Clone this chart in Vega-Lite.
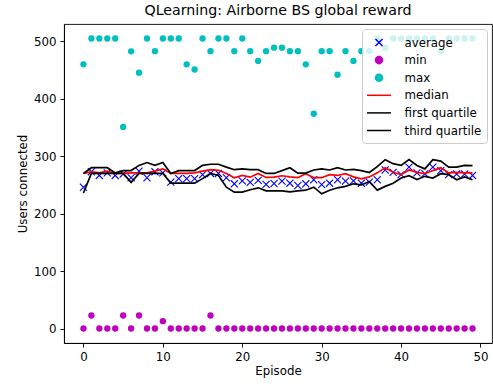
{
  "$schema": "https://vega.github.io/schema/vega-lite/v6.json",
  "width": 428,
  "height": 319,
  "autosize": {"type": "none"},
  "padding": {"left": 64, "top": 24, "right": 1, "bottom": 43},
  "title": {"text": "QLearning: Airborne BS global reward", "font": "DejaVu Sans", "fontSize": 14.2, "fontWeight": "normal", "color": "#000000", "offset": 6},
  "data": {"values": [
    {"episode": 0, "average": 246, "min": 0, "max": 460, "median": 270, "q1": 236, "q3": 270},
    {"episode": 1, "average": 273, "min": 22.6, "max": 505, "median": 272.8, "q1": 270, "q3": 280},
    {"episode": 2, "average": 266.5, "min": 0, "max": 505, "median": 271, "q1": 270, "q3": 280},
    {"episode": 3, "average": 271, "min": 0, "max": 505, "median": 274, "q1": 270, "q3": 280},
    {"episode": 4, "average": 266.5, "min": 0, "max": 505, "median": 270, "q1": 270, "q3": 271},
    {"episode": 5, "average": 269, "min": 22.6, "max": 351, "median": 270, "q1": 270, "q3": 275},
    {"episode": 6, "average": 262.5, "min": 0, "max": 482.6, "median": 271, "q1": 254.5, "q3": 275},
    {"episode": 7, "average": 274, "min": 22.6, "max": 445.5, "median": 271, "q1": 270, "q3": 284},
    {"episode": 8, "average": 262.5, "min": 0, "max": 505, "median": 271, "q1": 270, "q3": 289},
    {"episode": 9, "average": 273, "min": 0, "max": 483, "median": 274, "q1": 270, "q3": 284},
    {"episode": 10, "average": 271, "min": 12.7, "max": 505, "median": 278, "q1": 270, "q3": 289},
    {"episode": 11, "average": 255, "min": 0, "max": 505, "median": 270, "q1": 253, "q3": 270},
    {"episode": 12, "average": 261, "min": 0, "max": 505, "median": 270, "q1": 253, "q3": 275},
    {"episode": 13, "average": 261, "min": 0, "max": 460, "median": 270, "q1": 253, "q3": 275},
    {"episode": 14, "average": 261, "min": 0, "max": 451, "median": 271, "q1": 253, "q3": 275},
    {"episode": 15, "average": 268, "min": 0, "max": 505, "median": 274, "q1": 261, "q3": 284},
    {"episode": 16, "average": 270, "min": 22.6, "max": 483, "median": 276.5, "q1": 270, "q3": 286},
    {"episode": 17, "average": 270, "min": 0, "max": 505, "median": 275.5, "q1": 266.5, "q3": 286},
    {"episode": 18, "average": 262.5, "min": 0, "max": 505, "median": 270, "q1": 246, "q3": 281},
    {"episode": 19, "average": 252, "min": 0, "max": 483, "median": 262.5, "q1": 237.5, "q3": 276.5},
    {"episode": 20, "average": 257, "min": 0, "max": 505, "median": 266.5, "q1": 237.5, "q3": 278},
    {"episode": 21, "average": 254.5, "min": 0, "max": 483, "median": 263.5, "q1": 241.6, "q3": 276.5},
    {"episode": 22, "average": 258, "min": 0, "max": 466, "median": 270, "q1": 245, "q3": 276.5},
    {"episode": 23, "average": 251, "min": 0, "max": 483, "median": 263, "q1": 239.7, "q3": 270},
    {"episode": 24, "average": 252.5, "min": 0, "max": 489, "median": 263.5, "q1": 239.7, "q3": 270},
    {"episode": 25, "average": 256.6, "min": 0, "max": 489, "median": 266, "q1": 239.7, "q3": 275},
    {"episode": 26, "average": 253, "min": 0, "max": 483, "median": 264, "q1": 238, "q3": 280},
    {"episode": 27, "average": 249, "min": 0, "max": 483, "median": 262.6, "q1": 239.7, "q3": 270.5},
    {"episode": 28, "average": 252, "min": 0, "max": 460, "median": 269.5, "q1": 240.8, "q3": 270.5},
    {"episode": 29, "average": 259, "min": 0, "max": 374, "median": 262.6, "q1": 246.2, "q3": 276},
    {"episode": 30, "average": 250.6, "min": 0, "max": 483, "median": 262.6, "q1": 234.6, "q3": 278},
    {"episode": 31, "average": 253, "min": 0, "max": 483, "median": 268, "q1": 240.8, "q3": 276},
    {"episode": 32, "average": 259, "min": 0, "max": 442, "median": 266.5, "q1": 245, "q3": 280},
    {"episode": 33, "average": 256.6, "min": 0, "max": 483, "median": 269.5, "q1": 247.5, "q3": 276},
    {"episode": 34, "average": 257, "min": 0, "max": 466, "median": 264, "q1": 252, "q3": 277},
    {"episode": 35, "average": 253, "min": 0, "max": 483, "median": 260.7, "q1": 250, "q3": 275},
    {"episode": 36, "average": 255, "min": 0, "max": 483, "median": 264, "q1": 256, "q3": 271.7},
    {"episode": 37, "average": 259, "min": 0, "max": 505, "median": 271, "q1": 241, "q3": 282},
    {"episode": 38, "average": 276, "min": 0, "max": 489, "median": 280, "q1": 247.5, "q3": 294},
    {"episode": 39, "average": 272, "min": 0, "max": 505, "median": 272, "q1": 253, "q3": 287},
    {"episode": 40, "average": 268, "min": 0, "max": 505, "median": 268, "q1": 262, "q3": 284},
    {"episode": 41, "average": 281, "min": 0, "max": 505, "median": 276, "q1": 266, "q3": 294},
    {"episode": 42, "average": 271, "min": 0, "max": 505, "median": 272, "q1": 259.5, "q3": 284},
    {"episode": 43, "average": 269.5, "min": 0, "max": 505, "median": 269.5, "q1": 265, "q3": 278},
    {"episode": 44, "average": 281, "min": 0, "max": 505, "median": 275, "q1": 262, "q3": 294},
    {"episode": 45, "average": 275, "min": 0, "max": 483, "median": 280, "q1": 269.5, "q3": 291.5},
    {"episode": 46, "average": 268, "min": 0, "max": 505, "median": 271, "q1": 268, "q3": 281},
    {"episode": 47, "average": 269, "min": 0, "max": 505, "median": 272, "q1": 259, "q3": 281},
    {"episode": 48, "average": 269, "min": 0, "max": 505, "median": 271, "q1": 264, "q3": 284},
    {"episode": 49, "average": 266.5, "min": 0, "max": 505, "median": 271, "q1": 259, "q3": 283.5}
  ]},
  "transform": [{"fold": ["average", "min", "max", "median", "q1", "q3"], "as": ["series", "value"]}],
  "encoding": {
    "x": {"field": "episode", "type": "quantitative", "scale": {"domain": [-2.45, 51.45], "nice": false, "zero": false}, "axis": {"values": [0, 10, 20, 30, 40, 50], "title": "Episode"}},
    "y": {"field": "value", "type": "quantitative", "scale": {"domain": [-25.25, 530.25], "nice": false, "zero": false}, "axis": {"values": [0, 100, 200, 300, 400, 500], "title": "Users connected"}},
    "color": {
      "field": "series", "type": "nominal",
      "scale": {"domain": ["average", "min", "max", "median", "q1", "q3"], "range": ["#0000ff", "#bf00bf", "#00bfbf", "#ff0000", "#000000", "#000000"]},
      "legend": {
        "title": null,
        "labelExpr": "datum.label === 'q1' ? 'first quartile' : datum.label === 'q3' ? 'third quartile' : datum.label",
        "encode": {
          "symbols": {
            "update": {
              "shape": {"signal": "datum.value === 'average' ? 'M-0.47,-0.47L0.47,0.47M-0.47,0.47L0.47,-0.47' : (datum.value === 'min' || datum.value === 'max') ? 'M-0.47,0A0.47,0.47 0 1,0 0.47,0A0.47,0.47 0 1,0 -0.47,0Z' : 'M-1.6,0L1.6,0'"},
              "fill": {"signal": "(datum.value === 'min' || datum.value === 'max') ? scale('color', datum.value) : 'transparent'"},
              "stroke": {"signal": "(datum.value === 'min' || datum.value === 'max') ? 'transparent' : scale('color', datum.value)"},
              "opacity": {"value": 1},
              "fillOpacity": {"value": 1},
              "strokeOpacity": {"value": 1}
            }
          }
        }
      }
    }
  },
  "layer": [
    {"transform": [{"filter": "datum.series === 'average'"}], "mark": {"type": "point", "shape": "M-1,-1L1,1M-1,1L1,-1", "filled": false, "size": 50, "strokeWidth": 1.1, "opacity": 1}},
    {"transform": [{"filter": "datum.series === 'min' || datum.series === 'max'"}], "mark": {"type": "point", "shape": "circle", "filled": true, "size": 40, "opacity": 1, "strokeWidth": 0}},
    {"transform": [{"filter": "indexof(['median', 'q1', 'q3'], datum.series) >= 0"}], "mark": {"type": "line", "strokeWidth": 1.7}}
  ],
  "config": {
    "font": "DejaVu Sans",
    "view": {"stroke": "#000000", "strokeWidth": 0.9},
    "axis": {"grid": false, "domainColor": "#000000", "domainWidth": 0.9, "tickColor": "#000000", "tickWidth": 0.9, "tickSize": 4.1, "labelColor": "#000000", "labelFontSize": 11.8, "labelPadding": 3.9, "labelFont": "DejaVu Sans", "labelFlush": false, "labelOverlap": false, "titleColor": "#000000", "titleFontSize": 11.8, "titleFontWeight": "normal", "titleFont": "DejaVu Sans"},
    "axisX": {"titlePadding": 3},
    "axisY": {"titlePadding": 5},
    "legend": {"orient": "top-right", "offset": 5, "padding": 5, "fillColor": "rgba(255,255,255,0.8)", "strokeColor": "#cccccc", "cornerRadius": 3, "labelFontSize": 11.8, "labelColor": "#000000", "labelFont": "DejaVu Sans", "symbolSize": 225, "symbolStrokeWidth": 1.5, "symbolOffset": 3.5, "labelOffset": 17, "rowPadding": 1.6}
  }
}
